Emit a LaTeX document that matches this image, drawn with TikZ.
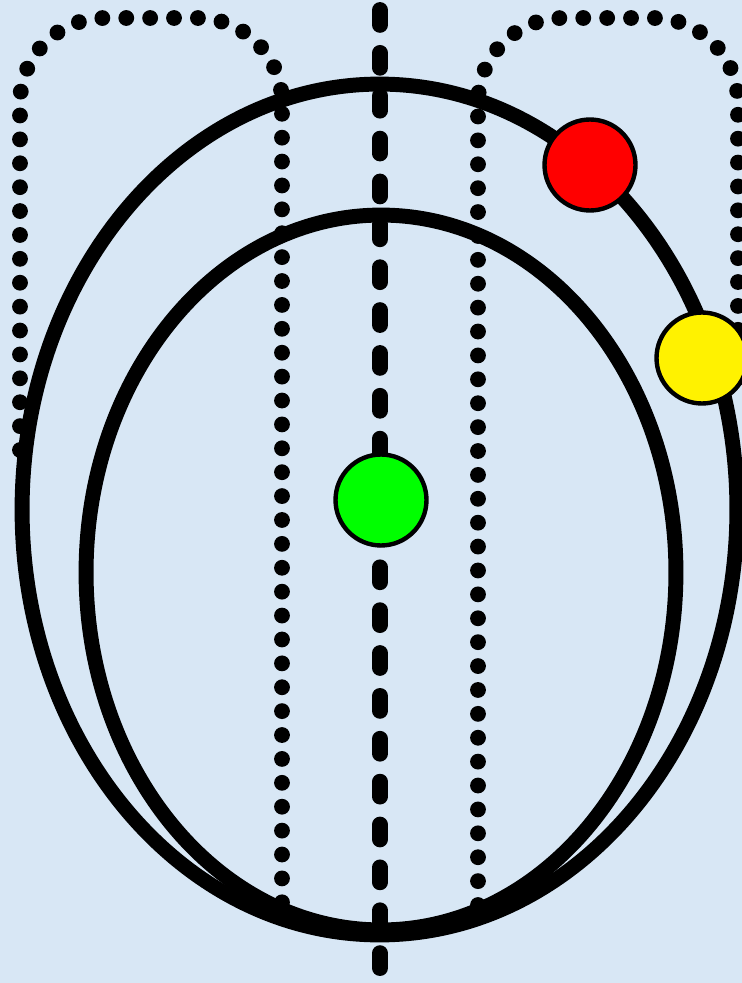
\documentclass[tikz,border=0pt]{standalone}
\definecolor{bgblue}{RGB}{216,231,245}
\tikzset{
  orbit/.style={line width=8.5pt},
  dotline/.style={line width=9pt, line cap=round, dash pattern=on 0pt off 13.6pt, rounded corners=1.7cm},
  axisline/.style={line width=9pt, line cap=round, dash pattern=on 8.5pt off 15.9pt},
  ball/.style={circle, draw, line width=2.5pt, inner sep=0pt, minimum size=1.82cm}
}
\begin{document}
\begin{tikzpicture}[x=0.02cm,y=-0.02cm]
\fill[bgblue] (0,0) rectangle (742,983);
\useasboundingbox (0,0) rectangle (742,983);

\coordinate (top) at (380,10);
\coordinate (bot) at (380,976);

\draw[dotline] (20,450) -- (20,18) -- (282,18) -- (282,905);
\draw[dotline] (478,905) -- (478,18) -- (738,18) -- (738,400);
\draw[axisline] (top) -- (bot);

\draw[orbit] (379.5,509.5) ellipse [x radius=7.15cm, y radius=8.51cm];
\draw[orbit] (381,572.5) ellipse [x radius=5.9cm, y radius=7.15cm];

\node[ball, fill=red] (sun) at (590,165) {};
\node[ball, fill=yellow] (moon) at (702,358) {};
\node[ball, fill=green] (earth) at (381,500) {};
\end{tikzpicture}
\end{document}
